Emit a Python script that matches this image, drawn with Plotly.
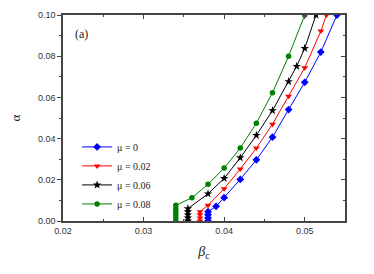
import plotly.graph_objects as go

# Data
x_mu0 = [0.038, 0.038, 0.038, 0.038, 0.039, 0.040, 0.042, 0.044, 0.046, 0.048, 0.050, 0.052, 0.054]
y_mu0 = [0.0, 0.0015, 0.003, 0.0045, 0.0071, 0.0113, 0.0202, 0.0297, 0.0407, 0.0541, 0.0673, 0.082, 0.10]

x_mu002 = [0.037, 0.037, 0.037, 0.037, 0.038, 0.040, 0.042, 0.044, 0.046, 0.048, 0.050, 0.052, 0.0527]
y_mu002 = [0.0, 0.0015, 0.003, 0.0045, 0.0076, 0.0157, 0.0252, 0.0354, 0.047, 0.0605, 0.0744, 0.0922, 0.10]

x_mu006 = [0.0355, 0.0355, 0.0355, 0.0355, 0.0355, 0.038, 0.040, 0.042, 0.044, 0.046, 0.048, 0.049, 0.050, 0.0514]
y_mu006 = [0.0, 0.0015, 0.003, 0.0045, 0.006, 0.0132, 0.0207, 0.0307, 0.0416, 0.0536, 0.0677, 0.0751, 0.0838, 0.10]

x_mu008 = [0.034, 0.034, 0.034, 0.034, 0.034, 0.034, 0.036, 0.038, 0.040, 0.042, 0.044, 0.046, 0.048, 0.050]
y_mu008 = [0.0, 0.0015, 0.003, 0.0045, 0.006, 0.0076, 0.0113, 0.0178, 0.0257, 0.0354, 0.0475, 0.0623, 0.080, 0.10]

series = [
    ("μ = 0", x_mu0, y_mu0, "#0000ff", "diamond", 6),
    ("μ = 0.02", x_mu002, y_mu002, "#ff0000", "triangle-down", 6),
    ("μ = 0.06", x_mu006, y_mu006, "#000000", "star", 6.5),
    ("μ = 0.08", x_mu008, y_mu008, "#008000", "circle", 5.5),
]

fig = go.Figure()
for name, xs, ys, col, sym, sz in series:
    fig.add_trace(go.Scatter(
        x=xs, y=ys, name=name, mode="lines+markers",
        line=dict(color=col, width=1),
        marker=dict(color=col, symbol=sym, size=sz, line=dict(width=0)),
    ))

# invisible trace carrying the right-hand inner ticks
fig.add_trace(go.Scatter(x=[0.02], y=[0], yaxis="y2", showlegend=False,
                         mode="markers", marker=dict(opacity=0), hoverinfo="skip"))

axcol = "#444444"
fig.update_layout(
    width=374, height=274,
    margin=dict(l=55, r=37, t=7, b=61, autoexpand=False),
    paper_bgcolor="white", plot_bgcolor="white",
    showlegend=True,
    legend=dict(x=0.05, y=0.43, xanchor="left", yanchor="top",
                font=dict(family="Liberation Serif", size=10, color="#222"),
                bgcolor="rgba(0,0,0,0)", tracegroupgap=0, itemwidth=30,
                itemsizing="trace"),
    xaxis=dict(range=[0.02, 0.055], dtick=0.01, tick0=0.02, tickformat=".2f",
               automargin=False,
               ticks="inside", ticklen=4, tickcolor=axcol,
               minor=dict(dtick=0.005, ticks="inside", ticklen=2, tickcolor=axcol),
               showline=True, linecolor=axcol, linewidth=1.5, mirror="ticks",
               showgrid=False, zeroline=False,
               tickfont=dict(family="Liberation Sans", size=9, color="#333"),
               title=dict(text="<i>β</i><sub>c</sub>", standoff=12,
                          font=dict(family="Liberation Serif", size=14, color="#222"))),
    yaxis=dict(range=[0, 0.10], dtick=0.02, tickformat=".2f",
               automargin=False,
               ticks="outside", ticklen=4, tickcolor=axcol,
               minor=dict(dtick=0.01, ticks="outside", ticklen=2, tickcolor=axcol),
               showline=True, linecolor=axcol, linewidth=1.5, mirror=True,
               showgrid=False, zeroline=False,
               tickfont=dict(family="Liberation Sans", size=9, color="#333"),
               title=dict(text="α", standoff=14,
                          font=dict(family="Liberation Serif", size=13, color="#222"))),
    yaxis2=dict(overlaying="y", side="right", range=[0, 0.10], dtick=0.02,
                automargin=False,
                showticklabels=False, ticks="inside", ticklen=4, tickcolor=axcol,
                minor=dict(dtick=0.01, ticks="inside", ticklen=2, tickcolor=axcol),
                showgrid=False, zeroline=False, showline=False),
    annotations=[dict(text="(a)", x=0.035, y=0.91, xref="paper", yref="paper",
                      xanchor="left", yanchor="middle", showarrow=False,
                      font=dict(family="Liberation Serif", size=12, color="#222"))],
)

fig.write_html("out.html")
